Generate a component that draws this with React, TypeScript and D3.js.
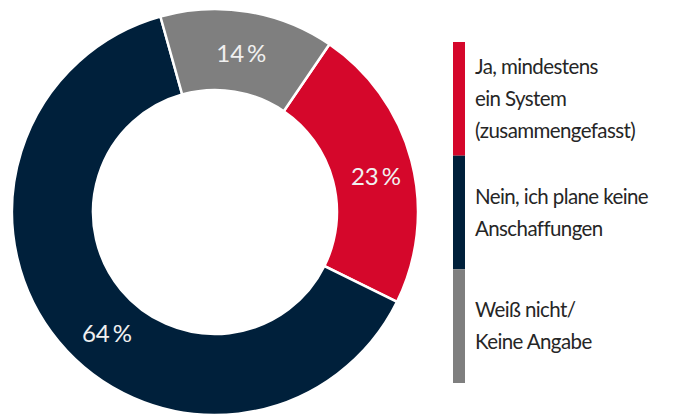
import React from "react";
import * as d3 from "d3";

const categories = [
  "Ja, mindestens ein System (zusammengefasst)",
  "Nein, ich plane keine Anschaffungen",
  "Weiß nicht/ Keine Angabe",
];
const values = [23, 64, 14];
const valueLabels = ["23\u2009%", "64\u2009%", "14\u2009%"];
const legendLines = [
  ["Ja, mindestens", "ein System", "(zusammengefasst)"],
  ["Nein, ich plane keine", "Anschaffungen"],
  ["Weiß nicht/", "Keine Angabe"],
];
const colors = ["#d5072b", "#00203b", "#7f7f7f"];

const W = 677;
const H = 414;

export default function App() {
  const cx = 215;
  const cy = 212;
  const outerR = 203;
  const innerR = 122;
  const startDeg = 34.3;
  const labelShiftDeg = [2, -8.5, 0];
  const labelR = [165, 162, 162];

  const pie = d3
    .pie<number>()
    .sort(null)
    .value((d) => d)
    .startAngle((startDeg * Math.PI) / 180)
    .endAngle((startDeg * Math.PI) / 180 + 2 * Math.PI);
  const arcs = pie(values);
  const arc = d3
    .arc<d3.PieArcDatum<number>>()
    .innerRadius(innerR)
    .outerRadius(outerR);

  const legendY = d3
    .scaleBand<number>()
    .domain(values.map((_, i) => i))
    .range([42, 383])
    .paddingInner(0);
  const lineH = 32;
  const font = "Lato, 'Open Sans', sans-serif";

  return (
    <svg
      width={W}
      height={H}
      style={{ position: "absolute", left: 0, top: 0 }}
      fontFamily={font}
    >
      <rect width={W} height={H} fill="#ffffff" />
      <g transform={`translate(${cx},${cy})`}>
        {arcs.map((a, i) => (
          <path
            key={categories[i]}
            d={arc(a) || ""}
            fill={colors[i]}
            stroke="#ffffff"
            strokeWidth={2.5}
          />
        ))}
        {arcs.map((a, i) => {
          const ang = (a.startAngle + a.endAngle) / 2 + (labelShiftDeg[i] * Math.PI) / 180;
          const x = labelR[i] * Math.sin(ang);
          const y = -labelR[i] * Math.cos(ang);
          return (
            <text
              key={"l" + i}
              x={x}
              y={y}
              textAnchor="middle"
              dominantBaseline="central"
              fill="#f0f0f0"
              fontSize={24}
            >
              {valueLabels[i]}
            </text>
          );
        })}
      </g>
      <g>
        {values.map((_, i) => {
          const y0 = legendY(i) as number;
          const bh = legendY.bandwidth();
          const lines = legendLines[i];
          const mid = y0 + bh / 2;
          const firstBaseline = mid - ((lines.length - 1) * lineH) / 2 + 7;
          return (
            <g key={"lg" + i}>
              <rect x={453} y={y0} width={12} height={bh} fill={colors[i]} />
              {lines.map((t, j) => (
                <text
                  key={j}
                  x={475}
                  y={firstBaseline + j * lineH}
                  fill="#262626"
                  fontSize={20.5}
                  letterSpacing={-0.6}
                >
                  {t}
                </text>
              ))}
            </g>
          );
        })}
      </g>
    </svg>
  );
}
